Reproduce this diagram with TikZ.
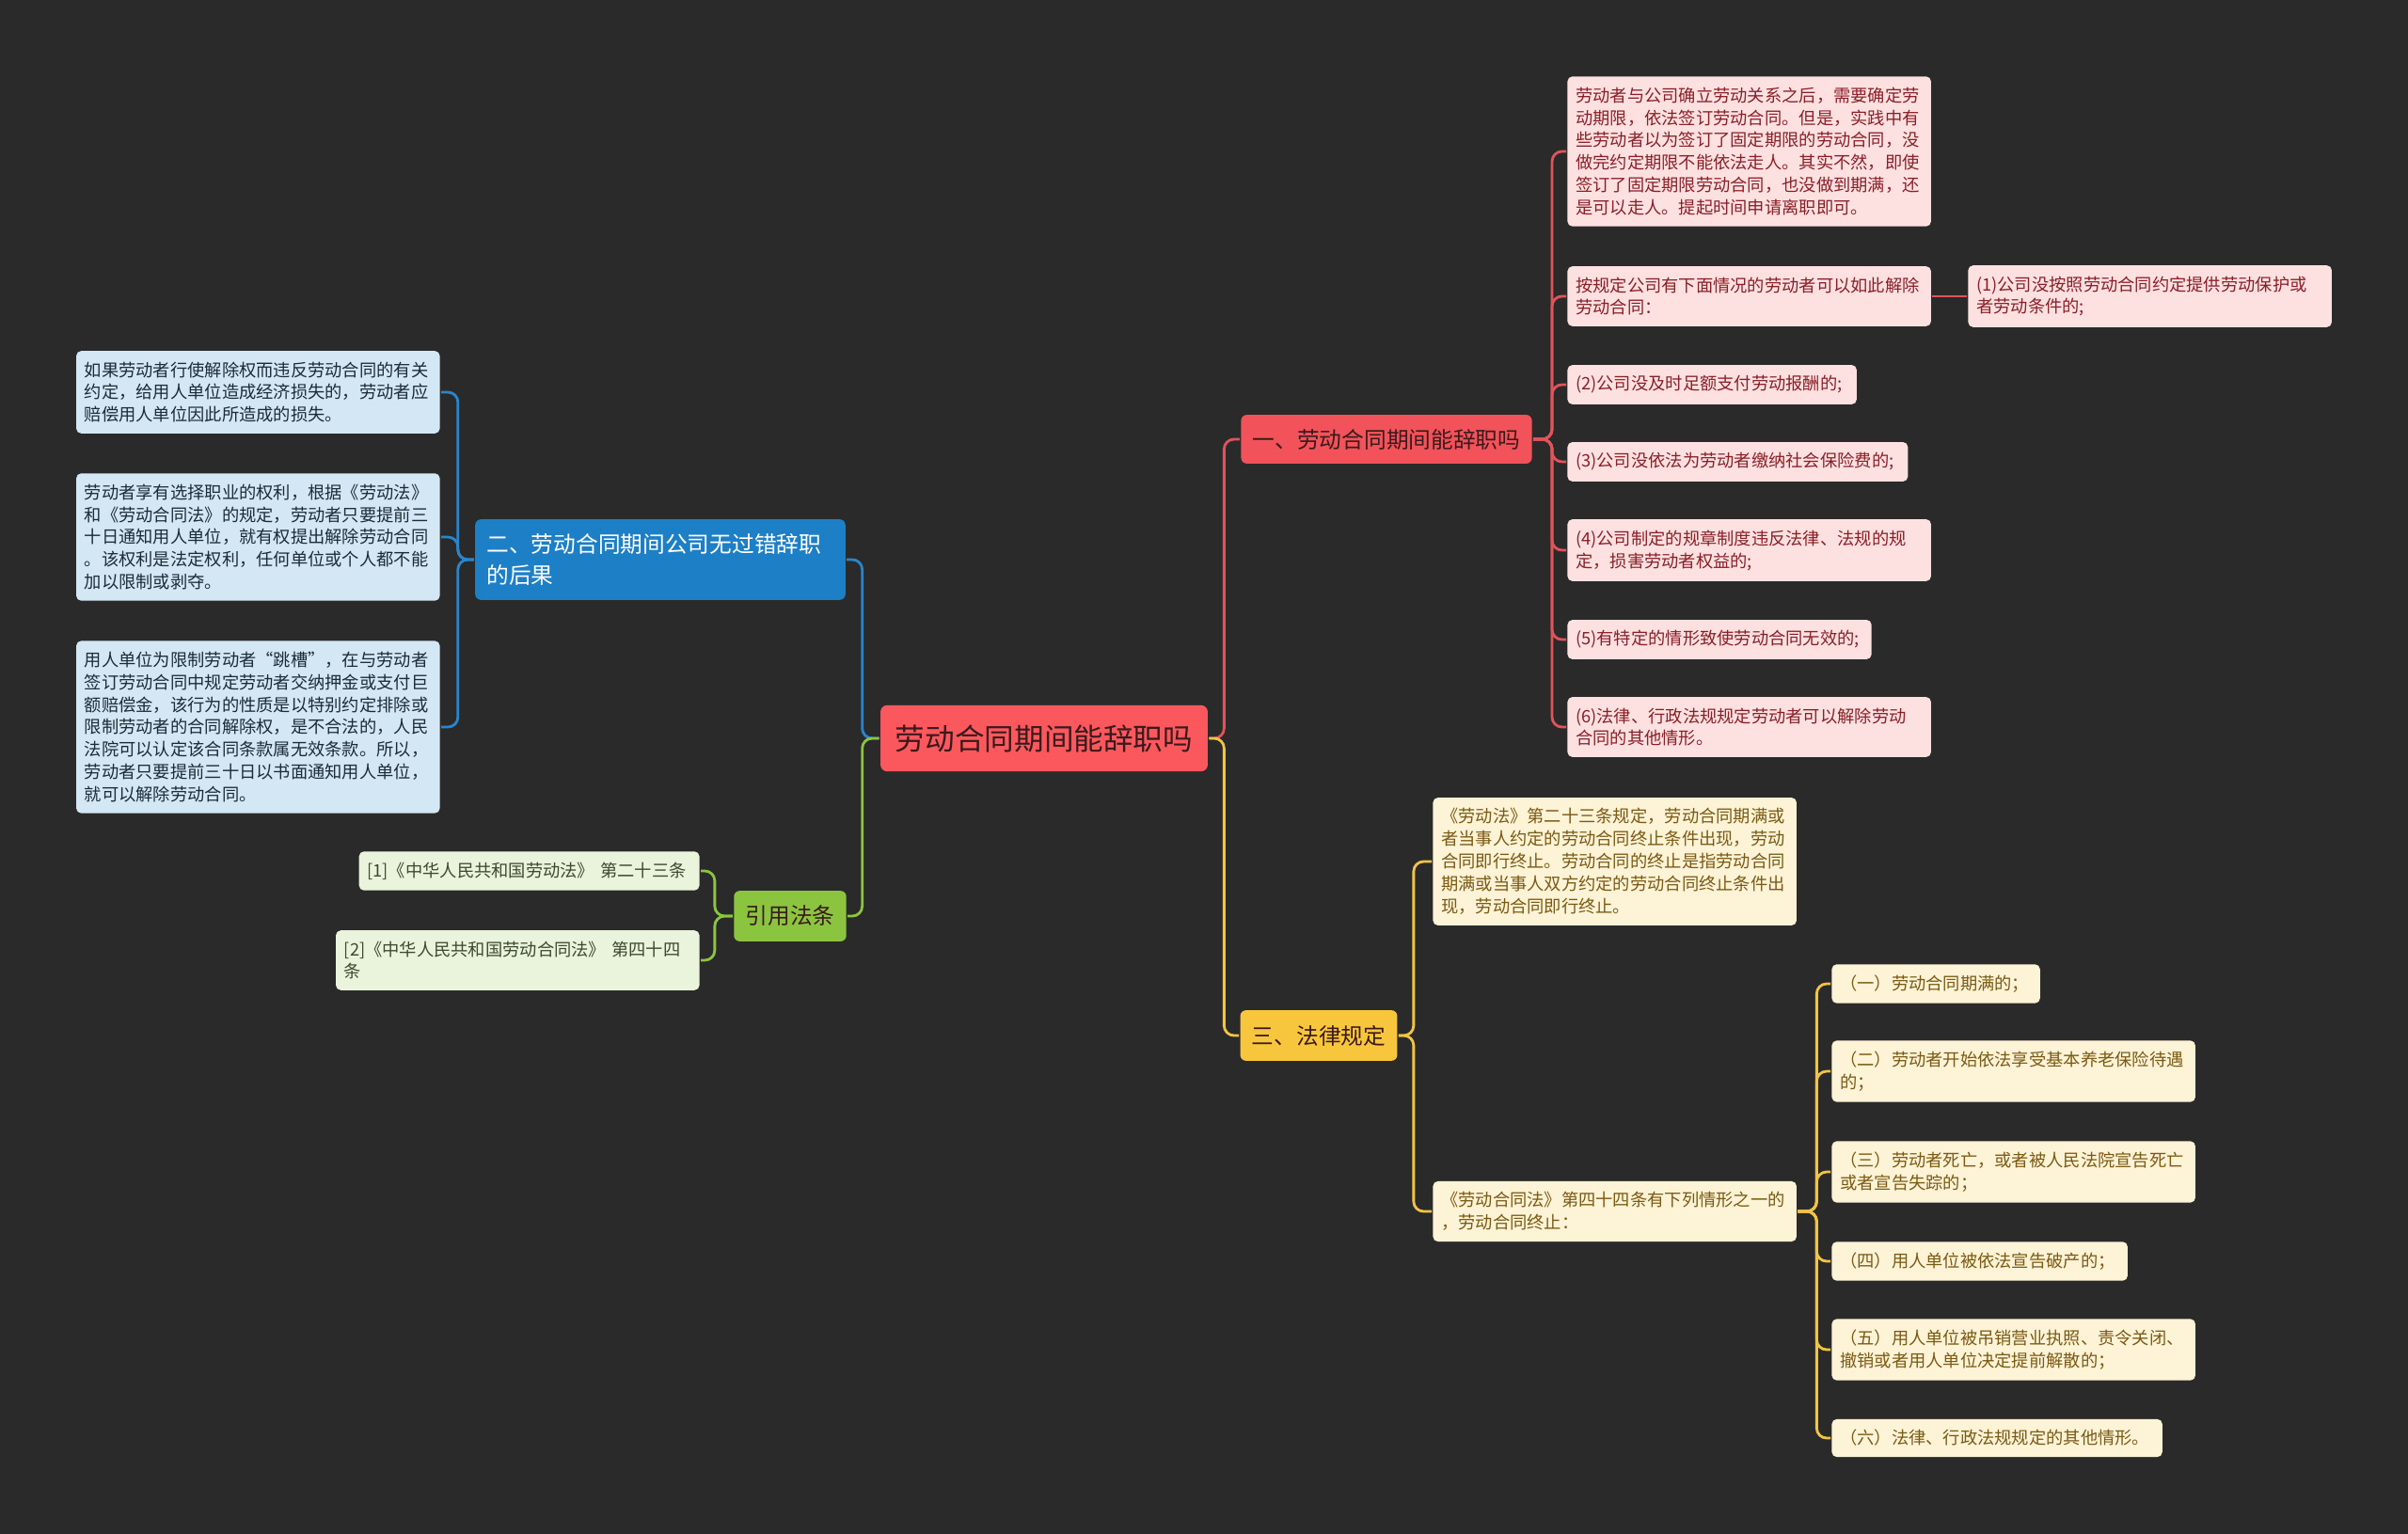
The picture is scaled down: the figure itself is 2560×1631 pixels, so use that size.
\documentclass[tikz,border=0pt]{standalone}
\usepackage{fontspec}
\setmainfont{Noto Sans CJK SC}

\definecolor{bgdark}{HTML}{2A2A2A}
\definecolor{rootred}{HTML}{FB585E}
\definecolor{branchred}{HTML}{F2525A}
\definecolor{linkred}{HTML}{E0545A}
\definecolor{branchblue}{HTML}{1D7FC6}
\definecolor{linkblue}{HTML}{2A85CC}
\definecolor{branchgreen}{HTML}{8BC53F}
\definecolor{branchyellow}{HTML}{F8C63C}
\definecolor{linkyellow}{HTML}{F2C443}
\definecolor{darktext}{HTML}{3A1A1C}
\definecolor{leafpink}{HTML}{FDE1E1}
\definecolor{leafpinktext}{HTML}{8A1F27}
\definecolor{leafblue}{HTML}{D4E7F4}
\definecolor{leafbluetext}{HTML}{1C2B3A}
\definecolor{leafgreen}{HTML}{EAF3DB}
\definecolor{leafgreentext}{HTML}{3C4A2E}
\definecolor{leafyellow}{HTML}{FDF3D6}
\definecolor{leafyellowtext}{HTML}{7A5A14}

\begin{document}
\begin{tikzpicture}[x=0.02cm, y=-0.02cm, line width=1.6pt,
    root node/.style={rectangle, rounded corners=4pt, fill=rootred, text=darktext,
      font=\fontsize{18}{22}\selectfont, minimum width=198pt, minimum height=40pt},
    branch node/.style={rectangle, rounded corners=3.5pt, align=left, inner xsep=7pt,
      font=\fontsize{13.5}{18.5}\selectfont, minimum height=29.5pt},
    leaf node/.style={rectangle, rounded corners=3pt, align=left, text width=210pt,
      inner xsep=5pt, inner ysep=6.5pt, font=\fontsize{10.4}{13.6}\selectfont},
    red leaf/.style={leaf node, fill=leafpink, text=leafpinktext},
    blue leaf/.style={leaf node, fill=leafblue, text=leafbluetext},
    green leaf/.style={leaf node, fill=leafgreen, text=leafgreentext},
    yellow leaf/.style={leaf node, fill=leafyellow, text=leafyellowtext},
    elbow/.style={to path={-- ++(#1,0) |- (\tikztotarget)}},
    red link/.style={draw=linkred, rounded corners=6pt},
    blue link/.style={draw=linkblue, rounded corners=6pt},
    green link/.style={draw=branchgreen, rounded corners=6pt},
    yellow link/.style={draw=linkyellow, rounded corners=6pt}]

  % Sfondo
  \fill[bgdark] (0,0) rectangle (2560,1631);
  \useasboundingbox (0,0) rectangle (2560,1631);

  % Radice
  \node[root node] (root) at (1110, 785) {劳动合同期间能辞职吗};

  % Rami principali
  \node[branch node, fill=branchred, text=darktext] (sec1) at (1474, 467) {一、劳动合同期间能辞职吗};
  \node[branch node, fill=branchblue, text=white, text width=210pt, minimum height=48.8pt] (sec2) at (702, 595)
    {二、劳动合同期间公司无过错辞职\\的后果};
  \node[branch node, fill=branchgreen, text=darktext, minimum height=30.6pt] (cite) at (840, 974) {引用法条};
  \node[branch node, fill=branchyellow, text=darktext, minimum height=30.6pt] (sec3) at (1402, 1101) {三、法律规定};

  % Foglie del ramo rosso
  \node[red leaf, anchor=west] (r1) at (1665, 161)
    {劳动者与公司确立劳动关系之后，需要确定劳\\动期限，依法签订劳动合同。但是，实践中有\\些劳动者以为签订了固定期限的劳动合同，没\\做完约定期限不能依法走人。其实不然，即使\\签订了固定期限劳动合同，也没做到期满，还\\是可以走人。提起时间申请离职即可。};
  \node[red leaf, anchor=west] (r2) at (1665, 315) {按规定公司有下面情况的劳动者可以如此解除\\劳动合同：};
  \node[red leaf, anchor=west] (r2a) at (2091, 315) {(1)公司没按照劳动合同约定提供劳动保护或\\者劳动条件的;};
  \node[red leaf, anchor=west, text width=165pt] (r3) at (1665, 409) {(2)公司没及时足额支付劳动报酬的;};
  \node[red leaf, anchor=west, text width=196pt] (r4) at (1665, 491) {(3)公司没依法为劳动者缴纳社会保险费的;};
  \node[red leaf, anchor=west] (r5) at (1665, 585) {(4)公司制定的规章制度违反法律、法规的规\\定，损害劳动者权益的;};
  \node[red leaf, anchor=west, text width=174pt] (r6) at (1665, 680) {(5)有特定的情形致使劳动合同无效的;};
  \node[red leaf, anchor=west] (r7) at (1665, 773) {(6)法律、行政法规规定劳动者可以解除劳动\\合同的其他情形。};

  % Foglie del ramo blu
  \node[blue leaf, anchor=east] (b1) at (469, 417)
    {如果劳动者行使解除权而违反劳动合同的有关\\约定，给用人单位造成经济损失的，劳动者应\\赔偿用人单位因此所造成的损失。};
  \node[blue leaf, anchor=east] (b2) at (469, 571)
    {劳动者享有选择职业的权利，根据《劳动法》\\和《劳动合同法》的规定，劳动者只要提前三\\十日通知用人单位，就有权提出解除劳动合同\\。该权利是法定权利，任何单位或个人都不能\\加以限制或剥夺。};
  \node[blue leaf, anchor=east] (b3) at (469, 773)
    {用人单位为限制劳动者“跳槽”，在与劳动者\\签订劳动合同中规定劳动者交纳押金或支付巨\\额赔偿金，该行为的性质是以特别约定排除或\\限制劳动者的合同解除权，是不合法的，人民\\法院可以认定该合同条款属无效条款。所以，\\劳动者只要提前三十日以书面通知用人单位，\\就可以解除劳动合同。};

  % Foglie del ramo verde
  \node[green leaf, anchor=east, text width=196pt] (g1) at (745, 926) {[1]《中华人民共和国劳动法》 第二十三条};
  \node[green leaf, anchor=east] (g2) at (745, 1021) {[2]《中华人民共和国劳动合同法》 第四十四\\条};

  % Foglie del ramo giallo
  \node[yellow leaf, anchor=west] (y1) at (1522, 916)
    {《劳动法》第二十三条规定，劳动合同期满或\\者当事人约定的劳动合同终止条件出现，劳动\\合同即行终止。劳动合同的终止是指劳动合同\\期满或当事人双方约定的劳动合同终止条件出\\现，劳动合同即行终止。};
  \node[yellow leaf, anchor=west] (y2) at (1522, 1288) {《劳动合同法》第四十四条有下列情形之一的\\，劳动合同终止：};
  \node[yellow leaf, anchor=west, text width=116pt] (y2a) at (1946, 1046) {（一）劳动合同期满的；};
  \node[yellow leaf, anchor=west] (y2b) at (1946, 1139) {（二）劳动者开始依法享受基本养老保险待遇\\的；};
  \node[yellow leaf, anchor=west] (y2c) at (1946, 1246) {（三）劳动者死亡，或者被人民法院宣告死亡\\或者宣告失踪的；};
  \node[yellow leaf, anchor=west, text width=169pt] (y2d) at (1946, 1341) {（四）用人单位被依法宣告破产的；};
  \node[yellow leaf, anchor=west] (y2e) at (1946, 1435) {（五）用人单位被吊销营业执照、责令关闭、\\撤销或者用人单位决定提前解散的；};
  \node[yellow leaf, anchor=west, text width=190pt] (y2f) at (1946, 1529) {（六）法律、行政法规规定的其他情形。};

  % Collegamenti
  \path[red link]
    (root.east) edge[elbow=16] (sec1.west)
    (sec1.east) edge[elbow=20] (r1.west)
    (sec1.east) edge[elbow=20] (r2.west)
    (sec1.east) edge[elbow=20] (r3.west)
    (sec1.east) edge[elbow=20] (r4.west)
    (sec1.east) edge[elbow=20] (r5.west)
    (sec1.east) edge[elbow=20] (r6.west)
    (sec1.east) edge[elbow=20] (r7.west)
    (r2.east) edge (r2a.west);

  \path[blue link]
    (root.west) edge[elbow=-18] (sec2.east)
    (sec2.west) edge[elbow=-17] (b1.east)
    (sec2.west) edge[elbow=-17] (b2.east)
    (sec2.west) edge[elbow=-17] (b3.east);

  \path[green link]
    (root.west) edge[elbow=-18] (cite.east)
    (cite.west) edge[elbow=-19] (g1.east)
    (cite.west) edge[elbow=-19] (g2.east);

  \path[yellow link]
    (root.east) edge[elbow=16] (sec3.west)
    (sec3.east) edge[elbow=16] (y1.west)
    (sec3.east) edge[elbow=16] (y2.west)
    (y2.east) edge[elbow=20] (y2a.west)
    (y2.east) edge[elbow=20] (y2b.west)
    (y2.east) edge[elbow=20] (y2c.west)
    (y2.east) edge[elbow=20] (y2d.west)
    (y2.east) edge[elbow=20] (y2e.west)
    (y2.east) edge[elbow=20] (y2f.west);

\end{tikzpicture}
\end{document}
